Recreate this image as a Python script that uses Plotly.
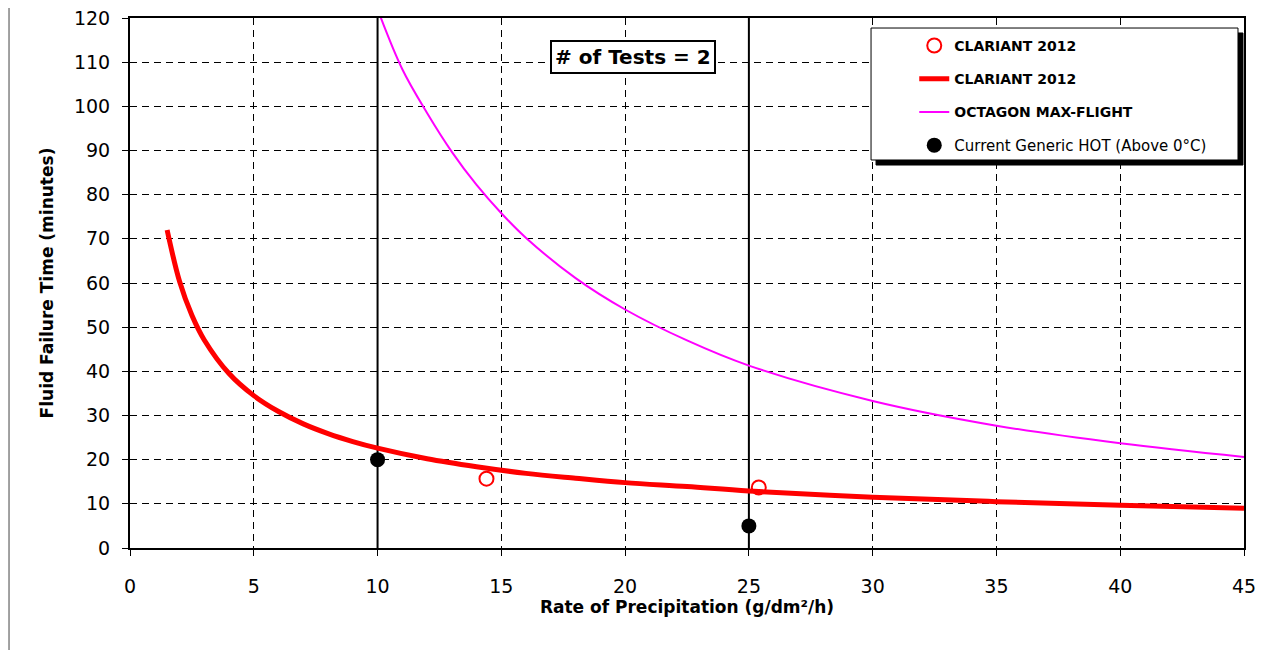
import plotly.graph_objects as go

# ---- data ----
clariant_pts_x = [14.4, 25.4]
clariant_pts_y = [15.7, 13.7]

clariant_curve_x = [1.5, 2, 2.5, 3, 4, 5, 6, 7, 8, 9, 10, 12, 14, 16, 18, 20, 22.5, 25, 30, 35, 40, 45]
clariant_curve_y = [72, 60.4, 52.7, 47.1, 39.5, 34.5, 30.9, 28.1, 25.9, 24.1, 22.6, 20.2, 18.4, 16.9, 15.8, 14.8, 13.9, 12.9, 11.5, 10.5, 9.7, 9.0]

octagon_x = [10, 11, 12, 13, 14, 15, 16, 18, 20, 22.5, 25, 30, 35, 40, 45]
octagon_y = [122, 108.4, 98.5, 89.7, 82.2, 75.8, 70.2, 61.1, 54.0, 47.0, 41.3, 33.3, 27.7, 23.7, 20.6]

generic_x = [10, 25]
generic_y = [20, 5]

reference_rates = [10, 25]

x_ticks = [0, 5, 10, 15, 20, 25, 30, 35, 40, 45]
y_ticks = [0, 10, 20, 30, 40, 50, 60, 70, 80, 90, 100, 110, 120]

FONT = "DejaVu Sans"

fig = go.Figure()

fig.add_trace(go.Scatter(
    x=clariant_pts_x, y=clariant_pts_y, mode="markers", name="<b>CLARIANT 2012</b>",
    marker=dict(symbol="circle-open", size=14, color="#ff0000", line=dict(width=2, color="#ff0000")),
    legendgroup="a"))
fig.add_trace(go.Scatter(
    x=clariant_curve_x, y=clariant_curve_y, mode="lines", name="<b>CLARIANT 2012</b>",
    line=dict(color="#ff0000", width=5, shape="spline"), legendgroup="b"))
fig.add_trace(go.Scatter(
    x=octagon_x, y=octagon_y, mode="lines", name="<b>OCTAGON MAX-FLIGHT</b>",
    line=dict(color="#ff00ff", width=2, shape="spline"), legendgroup="c"))
fig.add_trace(go.Scatter(
    x=generic_x, y=generic_y, mode="markers",
    name="<span style='font-size:15px'>Current Generic HOT (Above 0°C)</span>",
    marker=dict(symbol="circle", size=15, color="#000000"), legendgroup="d"))

# vertical reference lines
for r in reference_rates:
    fig.add_shape(type="line", xref="x", yref="paper", x0=r, x1=r, y0=0, y1=1,
                  line=dict(color="black", width=2), layer="below")

# page border
fig.add_shape(type="rect", xref="paper", yref="paper", x0=-0.1086, x1=1.0296, y0=-0.25, y1=1.08,
              line=dict(color="#444444", width=1), layer="below")

# legend shadow and box
fig.add_shape(type="rect", xref="paper", yref="paper", x0=0.6697, x1=0.9991, y0=0.7226, y1=0.9717,
              line=dict(color="black", width=1), fillcolor="black", layer="above")
fig.add_shape(type="rect", xref="paper", yref="paper", x0=0.6652, x1=0.9946, y0=0.7321, y1=0.9811,
              line=dict(color="black", width=1), fillcolor="white", layer="above")

fig.add_annotation(text="<b># of Tests = 2</b>", xref="paper", yref="paper", x=0.4515, y=0.9264,
                   xanchor="center", yanchor="middle",
                   showarrow=False, font=dict(family=FONT, size=20, color="black"),
                   bordercolor="black", borderwidth=2, borderpad=3, bgcolor="white")

fig.update_layout(
    width=1273, height=642,
    margin=dict(l=122, r=37, t=10, b=102, autoexpand=False),
    paper_bgcolor="white", plot_bgcolor="white",
    font=dict(family=FONT, color="black"),
    showlegend=True,
    legend=dict(x=0.704, y=0.9775, xanchor="left", yanchor="top",
                bgcolor="rgba(0,0,0,0)", borderwidth=0,
                font=dict(family=FONT, size=14, color="black"),
                tracegroupgap=12, traceorder="grouped"),
    xaxis=dict(range=[0, 45], tickvals=x_ticks, ticks="outside", ticklen=6, tickcolor="black",
               showline=True, linecolor="black", linewidth=2, mirror=True,
               showgrid=True, gridcolor="black", gridwidth=1, griddash="7px,5px",
               zeroline=False, tickfont=dict(size=19, family=FONT), ticklabelstandoff=14,
               automargin=False, ticklabeloverflow="allow",
               title=dict(text="<b>Rate of Precipitation (g/dm²/h)</b>", font=dict(size=17, family=FONT), standoff=3)),
    yaxis=dict(range=[0, 120], tickvals=y_ticks, ticks="outside", ticklen=6, tickcolor="black",
               showline=True, linecolor="black", linewidth=2, mirror=True,
               showgrid=True, gridcolor="black", gridwidth=1, griddash="7px,5px",
               zeroline=False, tickfont=dict(size=19, family=FONT), ticklabelstandoff=8,
               automargin=False, ticklabeloverflow="allow",
               title=dict(text="<b>Fluid Failure Time (minutes)</b>", font=dict(size=17, family=FONT), standoff=16)),
)

fig.write_html("out.html")
